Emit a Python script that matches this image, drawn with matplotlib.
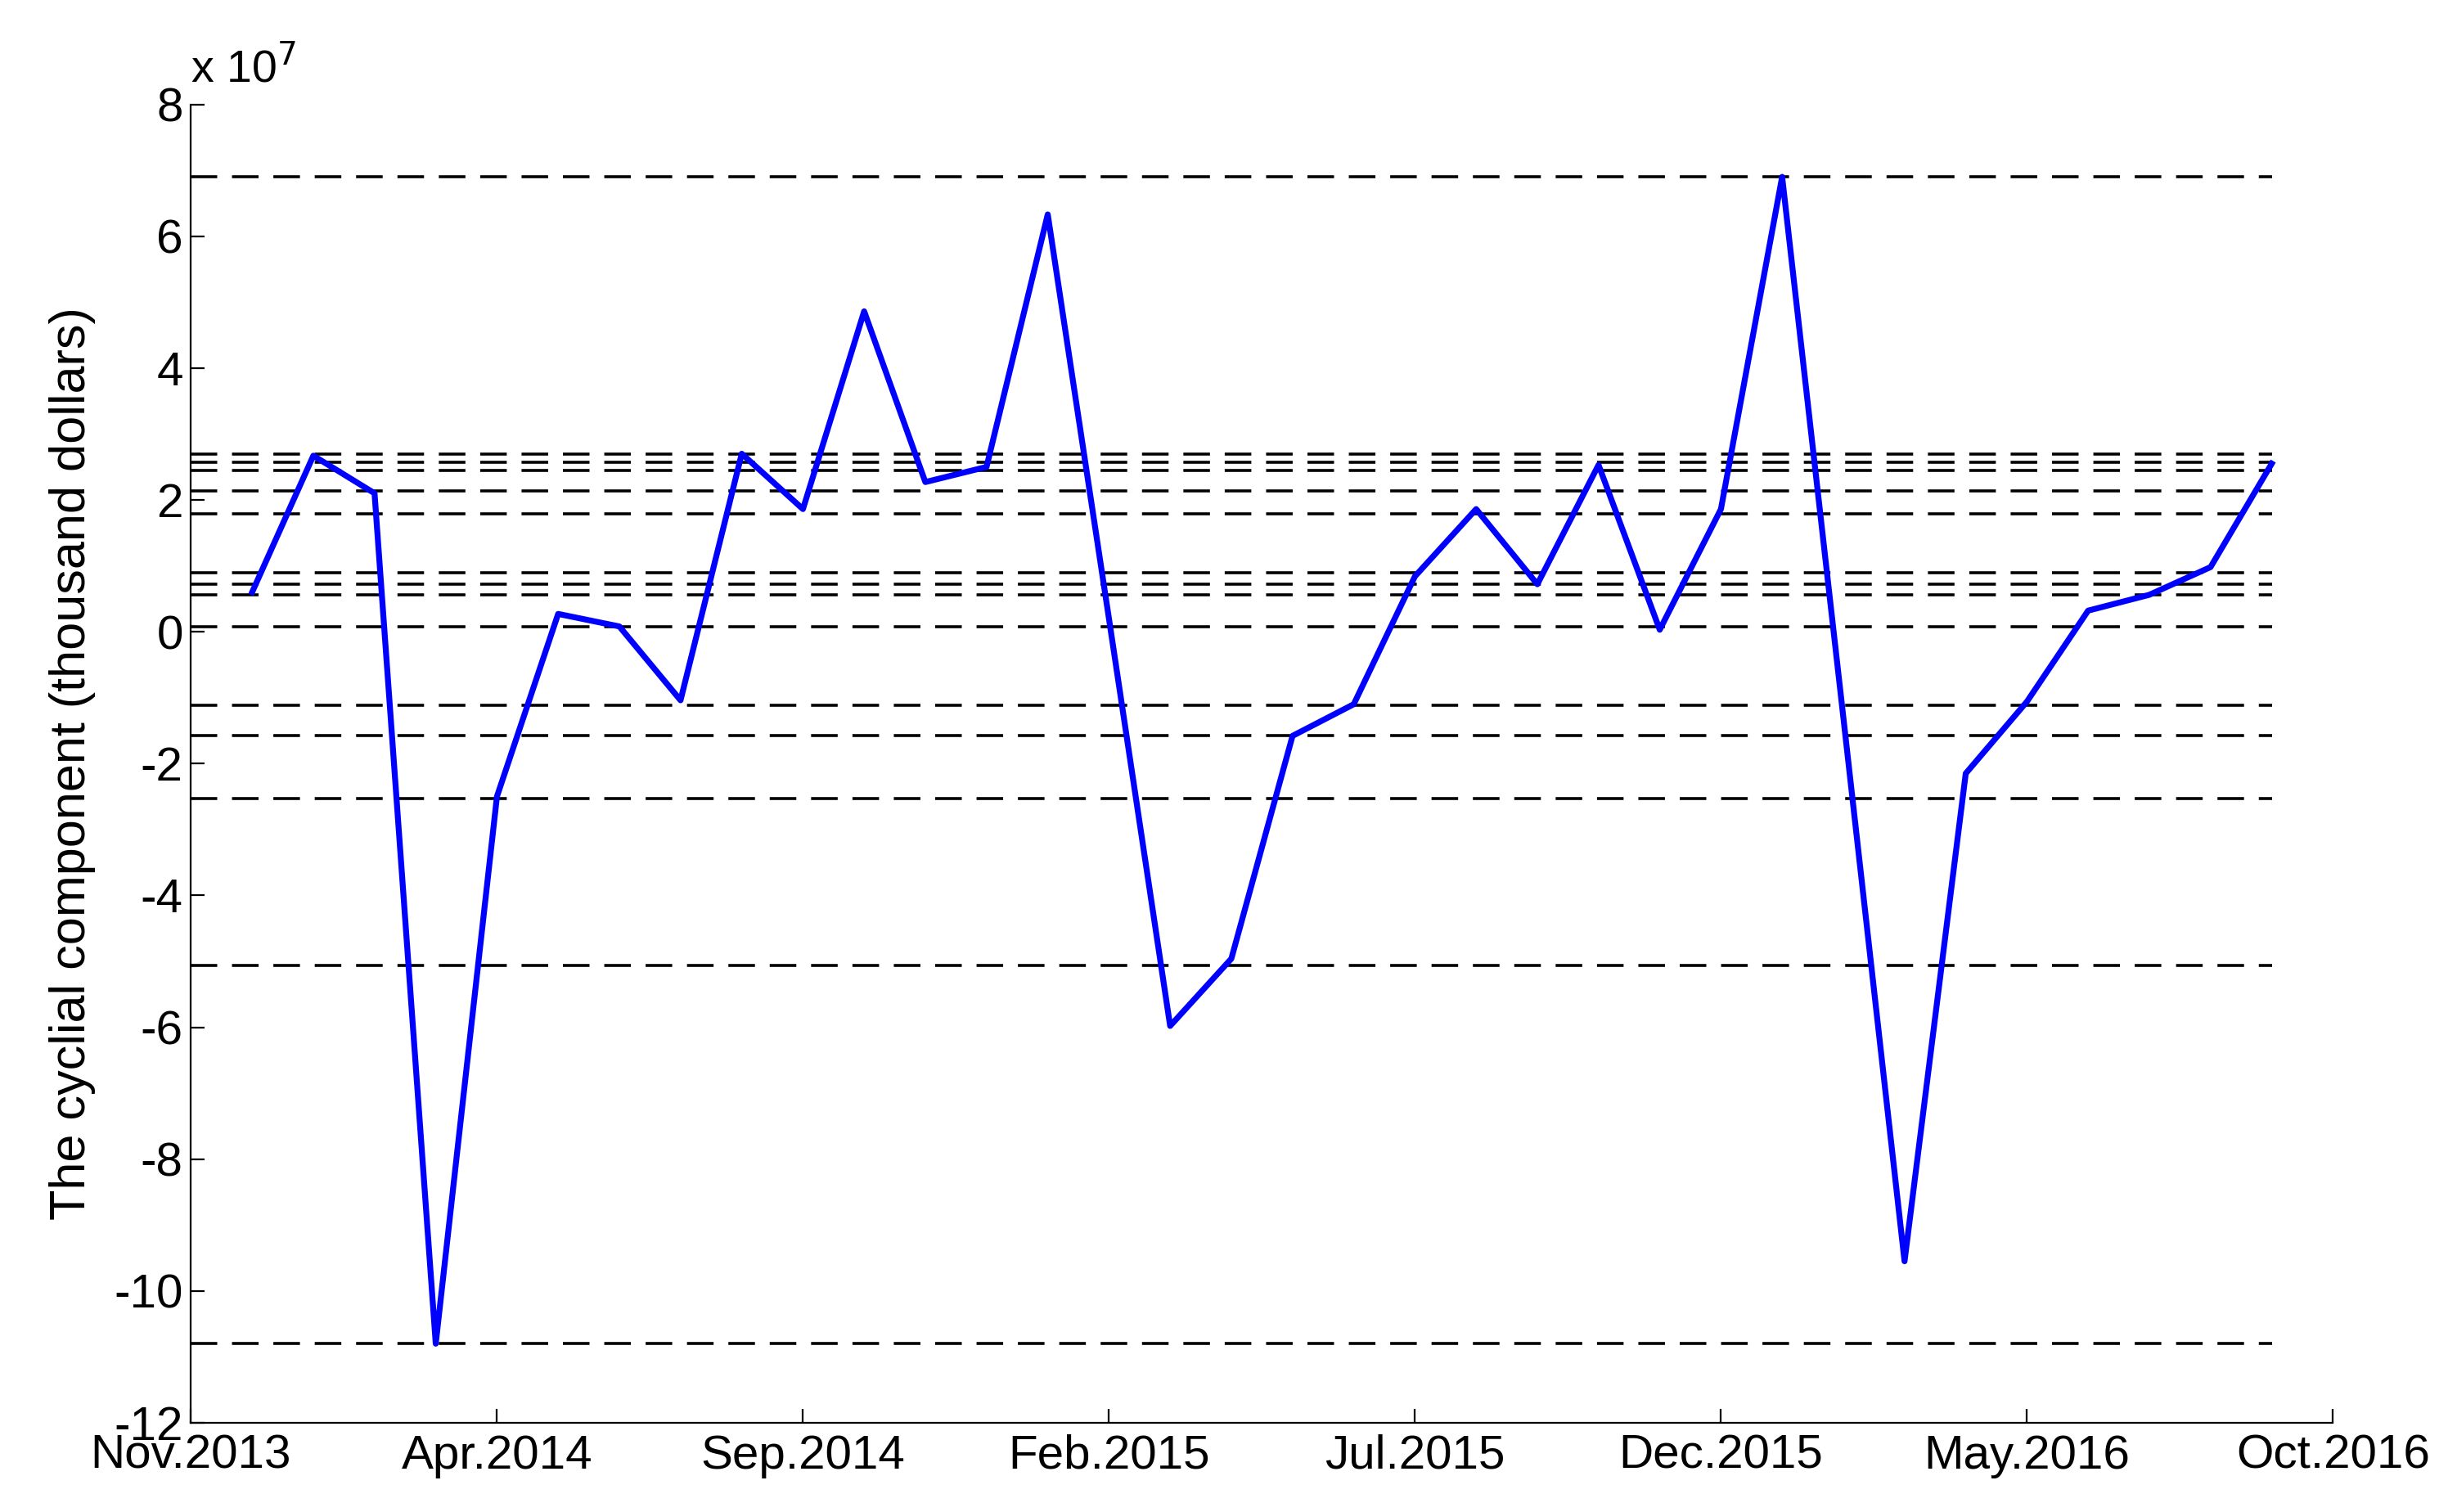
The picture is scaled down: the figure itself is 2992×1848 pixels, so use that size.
import matplotlib.pyplot as plt
import numpy as np

plt.rcParams['font.family'] = ['Liberation Sans', 'DejaVu Sans']

# months since Nov.2013
months = np.arange(1, 35)
values = [0.6, 2.67, 2.1, -10.8, -2.5, 0.27, 0.08, -1.04, 2.7, 1.86,
          4.86, 2.27, 2.5, 6.33, 0.2, -5.98, -4.96, -1.58, -1.1, 0.84,
          1.86, 0.72, 2.53, 0.03, 1.86, 6.9, -1.3, -9.55, -2.15, -1.06,
          0.32, 0.56, 0.98, 2.55]
levels = [6.9, 2.69, 2.57, 2.45, 2.13, 1.79, 0.89, 0.72, 0.56, 0.08,
          -1.11, -1.58, -2.53, -5.06, -10.8]
tick_pos = [0, 5, 10, 15, 20, 25, 30, 35]
tick_labels = ['Nov.2013', 'Apr.2014', 'Sep.2014', 'Feb.2015', 'Jul.2015',
               'Dec.2015', 'May.2016', 'Oct.2016']

fig = plt.figure(figsize=(14.96, 9.24), dpi=200)
ax = fig.add_axes([0.078, 0.059, 0.875, 0.872])

for lv in levels:
    ax.plot([0, 34], [lv, lv], color='black', linestyle=(0, (9, 5)), linewidth=1.3)
ax.plot(months, values, color='#0000ff', linewidth=2.6)

ax.set_xlim(0, 35)
ax.set_ylim(-12, 8)
ax.set_yticks(np.arange(-12, 9, 2))
ax.set_yticklabels([str(v) for v in range(-12, 9, 2)])
ax.set_xticks(tick_pos)
ax.set_xticklabels(tick_labels)
ax.tick_params(direction='in', labelsize=21, length=6)
ax.tick_params(axis='x', pad=5)
ax.spines['top'].set_visible(False)
ax.spines['right'].set_visible(False)
ax.set_ylabel('The cyclial component (thousand dollars)', fontsize=22, labelpad=8)
ax.text(0, 8.2, r'x 10$^7$', fontsize=20, ha='left', va='bottom')

fig.savefig('out.png', dpi=200)
